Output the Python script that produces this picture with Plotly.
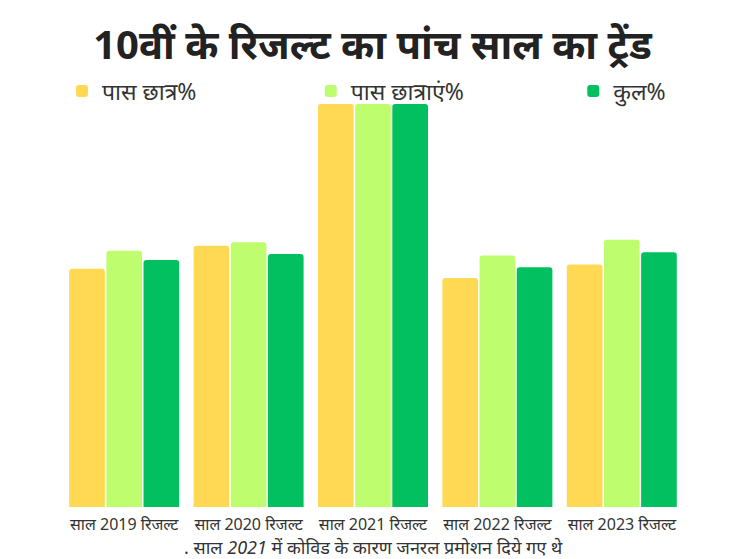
import plotly.graph_objects as go

categories = ["साल 2019 रिजल्ट", "साल 2020 रिजल्ट", "साल 2021 रिजल्ट", "साल 2022 रिजल्ट", "साल 2023 रिजल्ट"]
boys = [59.1, 64.8, 100, 56.8, 60.2]
girls = [63.6, 65.7, 100, 62.4, 66.3]
total = [61.3, 62.8, 100, 59.5, 63.2]

series_names = ["पास छात्र%", "पास छात्राएं%", "कुल%"]
colors = ["#FFD954", "#BEFD6E", "#02BF5F"]
legend_ids = ["legend", "legend2", "legend3"]
legend_x = [0.0, 0.4, 0.822]

FONT = "Noto Sans, Lato, sans-serif"

fig = go.Figure()
for name, vals, col, lid in zip(series_names, [boys, girls, total], colors, legend_ids):
    fig.add_trace(go.Bar(x=categories, y=vals, name=name, marker_color=col,
                         marker_line_width=0, legend=lid, showlegend=True, hoverinfo="x+y"))

legend_common = dict(orientation="h", y=1.032, yanchor="middle", xanchor="left",
                     bgcolor="rgba(0,0,0,0)", font=dict(size=23, color="#333333", family=FONT))

fig.update_layout(
    width=745, height=559,
    paper_bgcolor="white", plot_bgcolor="white",
    margin=dict(l=62, r=61, t=104, b=52),
    barmode="group", bargap=0.104, bargroupgap=0.04,
    barcornerradius=3,
    font=dict(family=FONT, color="#333333"),
    title=dict(text="<b>10वीं के रिजल्ट का पांच साल का ट्रेंड</b>",
               x=0.5, xanchor="center", y=0.92, yanchor="middle",
               font=dict(size=40, color="#222222", family=FONT)),
    legend=dict(x=legend_x[0], **legend_common),
    legend2=dict(x=legend_x[1], **legend_common),
    legend3=dict(x=legend_x[2], **legend_common),
    xaxis=dict(showgrid=False, showline=False, ticks="", ticklabelstandoff=6,
               tickfont=dict(size=16, color="#333333")),
    yaxis=dict(range=[0, 100], visible=False, showgrid=False),
)
fig.add_annotation(text=". साल <i>2021</i> में कोविड के कारण जनरल प्रमोशन दिये गए थे",
                   xref="paper", yref="paper", x=0.5, y=-0.1, xanchor="center", yanchor="middle",
                   showarrow=False, font=dict(size=18, color="#333333", family=FONT))
fig.write_html("out.html")
